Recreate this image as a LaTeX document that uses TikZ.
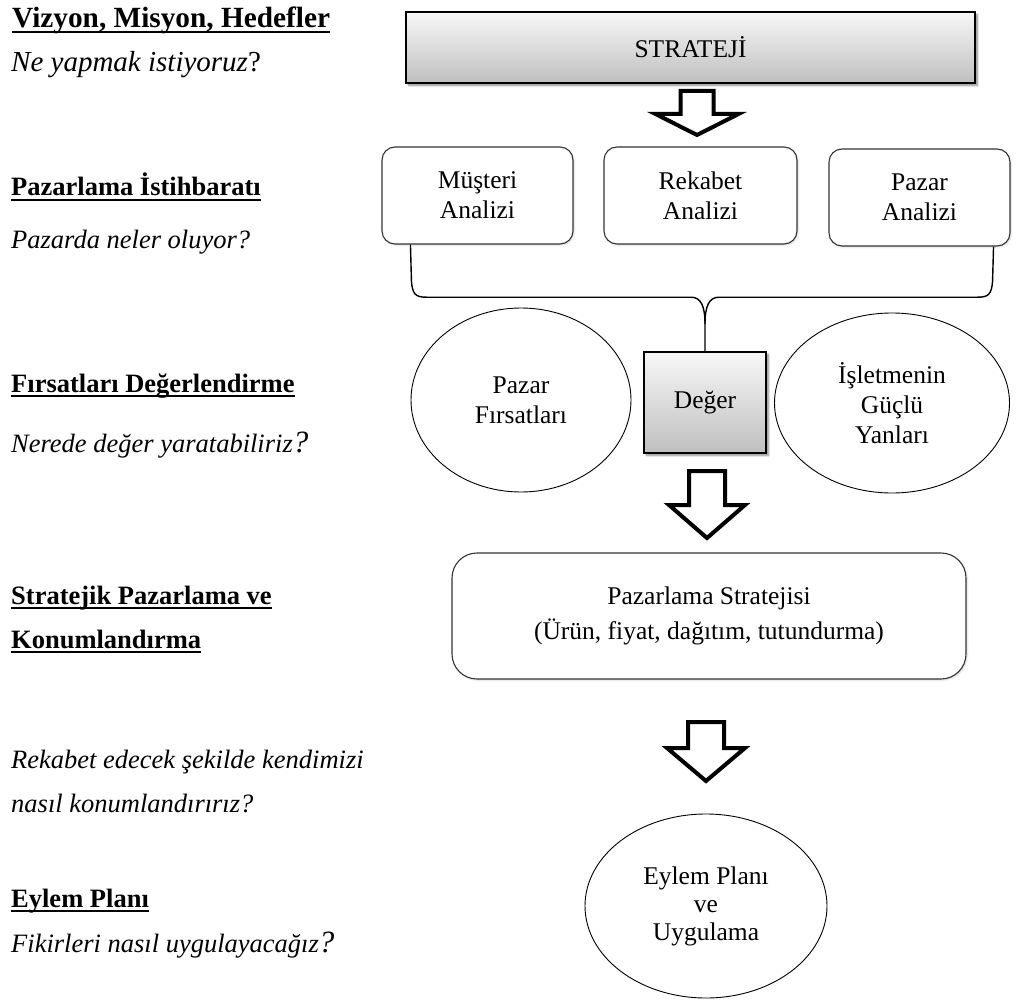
\documentclass[tikz,border=0pt]{standalone}
\usepackage{fontspec}
\setmainfont{Liberation Serif}
\usetikzlibrary{calc,shapes.geometric,shadows.blur}
\newcommand\bigq{{\fontsize{31}{32}\selectfont ?}}
\begin{document}
\begin{tikzpicture}[x=1pt,y=-1pt,
  lbl/.style={anchor=base west,inner sep=0pt,font=\fontsize{26.5}{32}\selectfont\bfseries},
  biglbl/.style={lbl,font=\fontsize{29.3}{35}\selectfont\bfseries},
  ask/.style={anchor=base west,inner sep=0pt,font=\fontsize{26.5}{32}\selectfont\itshape},
  bigask/.style={ask,font=\fontsize{29}{35}\selectfont\itshape},
  ulrule/.style={line width=2.3pt},
  body/.style={font=\fontsize{25.5}{30}\selectfont,align=center,text=black},
  roundbox/.style={body,draw=black!80,line width=1.1pt,rounded corners=13pt,fill=white,inner sep=0pt,
    blur shadow={shadow xshift=1.2pt,shadow yshift=-1.2pt,shadow opacity=15,shadow blur steps=4}},
  gradbox/.style={body,draw=black,line width=1.6pt,top color=gray!6,bottom color=gray!50,inner sep=0pt,
    blur shadow={shadow xshift=2.5pt,shadow yshift=-2.5pt,shadow opacity=45,shadow blur steps=5}},
  oval/.style={body,ellipse,draw=black,line width=0.9pt,inner sep=0pt},
  brace/.style={line width=1.4pt,black},
  hollow/.style={draw=black,line width=4pt,fill=white,miter limit=10},
  pics/downarrow/.style n args={4}{code={
    \path[hollow] (-#1,0) -- (#1,0) -- (#1,#3) -- (#2,#3) -- (0,#4) -- (-#2,#3) -- (-#1,#3) -- cycle;}}
]
\useasboundingbox (0,0) rectangle (1017,1003);

% left column: stage titles and guiding questions
\node[biglbl] (h1) at (12,28) {Vizyon, Misyon, Hedefler};
\node[bigask] (q1) at (11,72) {Ne yapmak istiyoruz{\upshape ?}};
\node[lbl] (h2) at (11,196) {Pazarlama İstihbaratı};
\node[ask] (q2) at (11,248) {Pazarda neler oluyor?};
\node[lbl] (h3) at (11,392) {Fırsatları Değerlendirme};
\node[ask] (q3) at (11,452) {Nerede değer yaratabiliriz\bigq};
\node[lbl] (h4a) at (11,604) {Stratejik Pazarlama ve};
\node[lbl] (h4b) at (11,648) {Konumlandırma};
\node[ask] (q4a) at (11,768) {Rekabet edecek şekilde kendimizi};
\node[ask] (q4b) at (11,812) {nasıl konumlandırırız?};
\node[lbl] (h5) at (11,907) {Eylem Planı};
\node[ask] (q5) at (11,952) {Fikirleri nasıl uygulayacağız\bigq};
\foreach \n in {h1,h2,h3,h4a,h4b,h5}
  \draw[ulrule] ([yshift=-4pt]\n.base west) -- ([yshift=-4pt]\n.base east);

% right column: the process
\node[gradbox,minimum width=569,minimum height=71] (str) at (690.5,47.5) {STRATEJİ};

\node[roundbox,minimum width=191,minimum height=97] (mus) at (477.5,195.5) {Müşteri\\Analizi};
\node[roundbox,minimum width=193,minimum height=97] (rek) at (700.5,195.5) {Rekabet\\Analizi};
\node[roundbox,minimum width=181,minimum height=97] (paz) at (919.5,197.5) {Pazar\\Analizi};

\node[oval,minimum width=220,minimum height=184] (firs) at (521,400) {Pazar\\Fırsatları};
\node[oval,minimum width=235,minimum height=180] (guc) at (892,403) {İşletmenin\\Güçlü\\Yanları};
\node[gradbox,minimum width=122,minimum height=101] (deg) at (705,402.5) {Değer};

\node[roundbox,rounded corners=25pt,minimum width=514,minimum height=126,
  font=\fontsize{25.5}{35}\selectfont] (ps) at (709,616)
  {Pazarlama Stratejisi\\(Ürün, fiyat, dağıtım, tutundurma)};

\node[oval,minimum width=242,minimum height=184,font=\fontsize{25.5}{28}\selectfont] (eyl) at (706,906)
  {Eylem Planı\\ve\\Uygulama};

% hollow block arrows
\pic at (697,91) {downarrow={16.5}{41.5}{23}{44}};
\pic at (707,471) {downarrow={18}{38}{34}{67}};
\pic at (706,722) {downarrow={18}{39}{26}{59}};

% brace gathering the three analyses into value
\coordinate (bl) at ([xshift=29pt]mus.south west);
\coordinate (br) at ([xshift=-17pt]paz.south east);
\coordinate (cusp) at ([yshift=27pt]deg.north);
\coordinate (hz) at ([yshift=27pt]cusp);
\draw[brace] (bl) -- ($(bl|-hz)+(1,-16)$) .. controls ($(bl|-hz)+(2,-3)$) and ($(bl|-hz)+(5,0)$) .. ($(bl|-hz)+(16,0)$)
  -- ($(hz)+(-14,0)$) .. controls ($(hz)+(-4,0)$) and ($(cusp)+(0,-18)$) .. (cusp) -- (deg.north);
\draw[brace] (br) -- ($(br|-hz)+(-1,-16)$) .. controls ($(br|-hz)+(-2,-3)$) and ($(br|-hz)+(-5,0)$) .. ($(br|-hz)+(-16,0)$)
  -- ($(hz)+(14,0)$) .. controls ($(hz)+(4,0)$) and ($(cusp)+(0,-18)$) .. (cusp);
\end{tikzpicture}
\end{document}
